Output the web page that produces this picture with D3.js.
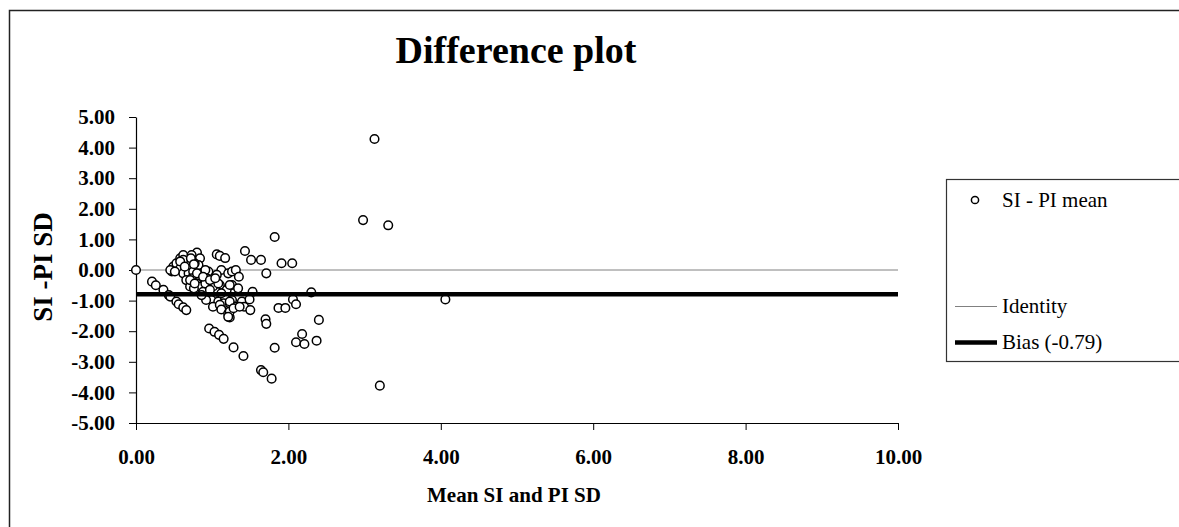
<!DOCTYPE html>
<html>
<head>
<meta charset="utf-8">
<script src="https://cdn.jsdelivr.net/npm/d3@7"></script>
<style>
  html, body { margin: 0; padding: 0; background: #fff; }
  svg { display: block; }
</style>
</head>
<body>
<svg id="chart" width="1179" height="527"></svg>
<script>
// ---- Data ----
const titleText = "Difference plot";
const xTitle = "Mean SI and PI SD";
const yTitle = "SI -PI SD";
const xTicks = [0, 2, 4, 6, 8, 10];
const xTickLabels = ["0.00", "2.00", "4.00", "6.00", "8.00", "10.00"];
const yTicks = [-5, -4, -3, -2, -1, 0, 1, 2, 3, 4, 5];
const yTickLabels = ["-5.00", "-4.00", "-3.00", "-2.00", "-1.00", "0.00", "1.00", "2.00", "3.00", "4.00", "5.00"];
const seriesName = "SI - PI mean";
const identityName = "Identity";
const biasName = "Bias (-0.79)";
const biasValue = -0.79;
const identityValue = 0;
const xDomain = [0, 10];
const yDomain = [-5, 5];

// mean of SI and PI SD (x)
const meanSD = [
  0.00, 1.82, 1.43, 1.51, 1.64, 1.91, 2.05, 1.71, 0.80, 1.06, 1.10, 1.17,
  0.21, 0.26, 0.36, 0.43, 0.45, 0.53, 0.56, 0.62, 0.66,
  0.96, 1.03, 1.09, 1.15, 1.28, 1.41, 1.64, 1.67, 1.78, 1.82,
  1.70, 1.71, 1.87, 1.96, 2.06, 2.10, 2.30, 2.40, 2.37, 2.10, 2.18, 2.21,
  2.98, 3.31, 3.13, 3.20, 4.06,
  0.49, 0.53, 0.58, 0.62, 0.73, 0.84, 0.47, 0.58, 0.62, 0.69, 0.75, 0.86,
  0.95, 1.04, 0.66, 0.73, 0.80, 0.93, 1.01, 0.71, 0.84, 0.93, 1.04, 0.99,
  1.08, 0.82, 0.91, 0.77, 0.62, 0.97, 0.88,
  1.12, 1.21, 1.26, 1.31, 1.35, 1.26, 1.34, 1.53, 1.06, 1.10, 1.19, 1.06,
  1.17, 1.26, 1.39, 1.49, 1.15, 1.23, 1.30, 1.01, 1.42, 1.10, 1.12, 1.21,
  1.23, 1.50, 0.92, 0.91, 1.01, 0.97, 0.86, 0.76, 0.71, 0.80, 0.88, 0.97,
  0.77, 0.58, 0.72, 0.76, 0.45, 0.51, 0.64,
  1.23, 1.08, 1.12, 1.23, 1.23, 1.28, 1.36, 1.21, 1.04
];
// SI - PI SD difference (y)
const diffSD = [
  0.00, 1.08, 0.62, 0.33, 0.33, 0.22, 0.22, -0.11, 0.57, 0.51, 0.46, 0.39,
  -0.38, -0.50, -0.65, -0.82, -0.87, -1.03, -1.12, -1.22, -1.31,
  -1.91, -2.02, -2.12, -2.25, -2.53, -2.81, -3.27, -3.34, -3.55, -2.54,
  -1.61, -1.76, -1.24, -1.24, -0.96, -1.12, -0.73, -1.63, -2.31, -2.36, -2.09, -2.42,
  1.63, 1.46, 4.28, -3.78, -0.96,
  0.11, 0.22, 0.38, 0.49, 0.49, 0.38, -0.05, 0.05, -0.11, -0.11, -0.05, -0.11,
  -0.05, -0.22, -0.33, -0.27, -0.44, -0.27, -0.49, -0.54, -0.54, -0.82, -0.82, -0.98,
  -1.03, 0.16, 0.00, 0.22, 0.33, -0.54, -0.71,
  0.00, -0.11, -0.05, 0.00, -0.22, -0.49, -0.60, -0.71, -0.16, -0.49, -0.65, -0.71,
  -0.93, -0.98, -1.03, -0.96, -1.09, -1.09, -1.20, -1.20, -1.20, -1.14, -1.29, -1.42,
  -1.55, -1.31, -0.98, -0.44, -0.54, -0.65, -0.82, -0.60, -0.33, -0.11, -0.22, -0.33,
  -0.44, 0.28, 0.38, 0.19, 0.00, -0.05, 0.11,
  -0.49, -0.44, -0.76, -1.03, -1.36, -1.25, -1.20, -1.53, -0.27
];

const points = meanSD.map((x, i) => ({ x, y: diffSD[i] }));

// ---- Drawing ----
const svg = d3.select("#chart");
const serif = "'Liberation Serif', 'Times New Roman', serif";

// outer frame (right and bottom edges fall outside the picture)
svg.append("rect")
  .attr("x", 9.5).attr("y", 10.5)
  .attr("width", 1300).attr("height", 700)
  .attr("fill", "none").attr("stroke", "#222").attr("stroke-width", 1.5);

const x = d3.scaleLinear().domain(xDomain).range([136, 898]);
const y = d3.scaleLinear().domain(yDomain).range([423, 117]);

// title
svg.append("text")
  .attr("x", 516).attr("y", 63)
  .attr("text-anchor", "middle")
  .attr("font-family", serif).attr("font-weight", "bold").attr("font-size", 38)
  .text(titleText);

// identity line
svg.append("line")
  .attr("x1", x(xDomain[0])).attr("x2", x(xDomain[1]))
  .attr("y1", y(identityValue)).attr("y2", y(identityValue))
  .attr("stroke", "#808080").attr("stroke-width", 1);

// y axis
const yAxis = svg.append("g")
  .attr("transform", `translate(${x(0)},0)`)
  .call(d3.axisLeft(y).tickValues(yTicks).tickFormat((d, i) => yTickLabels[i]).tickSize(7).tickSizeOuter(0).tickPadding(14));
yAxis.select(".domain").attr("stroke", "#000").attr("stroke-width", 1.2);
yAxis.selectAll(".tick line").attr("stroke", "#000");
yAxis.selectAll("text")
  .attr("font-family", serif).attr("font-weight", "bold").attr("font-size", 21).attr("fill", "#000");

// x axis
const xAxis = svg.append("g")
  .attr("transform", `translate(0,${y(-5)})`)
  .call(d3.axisBottom(x).tickValues(xTicks).tickFormat((d, i) => xTickLabels[i]).tickSize(7).tickSizeOuter(0).tickPadding(19));
xAxis.select(".domain").attr("stroke", "#000").attr("stroke-width", 1.2);
xAxis.selectAll(".tick line").attr("stroke", "#000");
xAxis.selectAll("text")
  .attr("font-family", serif).attr("font-weight", "bold").attr("font-size", 21).attr("fill", "#000");

// axis titles
svg.append("text")
  .attr("x", 514).attr("y", 502)
  .attr("text-anchor", "middle")
  .attr("font-family", serif).attr("font-weight", "bold").attr("font-size", 21)
  .text(xTitle);
svg.append("text")
  .attr("transform", "translate(52,267) rotate(-90)")
  .attr("text-anchor", "middle")
  .attr("font-family", serif).attr("font-weight", "bold").attr("font-size", 27)
  .text(yTitle);

// points
svg.append("g").selectAll("circle")
  .data(points).join("circle")
  .attr("cx", d => x(d.x)).attr("cy", d => y(d.y))
  .attr("r", 4.3)
  .attr("fill", "#fff").attr("stroke", "#000").attr("stroke-width", 1.5);

// bias line (drawn over points)
svg.append("line")
  .attr("x1", x(xDomain[0])).attr("x2", x(xDomain[1]))
  .attr("y1", y(biasValue)).attr("y2", y(biasValue))
  .attr("stroke", "#000").attr("stroke-width", 4.5);

// legend
const lg = svg.append("g");
lg.append("rect")
  .attr("x", 946.5).attr("y", 179.5).attr("width", 400).attr("height", 182)
  .attr("fill", "#fff").attr("stroke", "#333").attr("stroke-width", 1.2);
lg.append("circle").attr("cx", 975).attr("cy", 200).attr("r", 3.6)
  .attr("fill", "#fff").attr("stroke", "#000").attr("stroke-width", 1.5);
lg.append("text").attr("x", 1002).attr("y", 207)
  .attr("font-family", serif).attr("font-size", 21).text(seriesName);
lg.append("line").attr("x1", 955).attr("x2", 997).attr("y1", 306.5).attr("y2", 306.5)
  .attr("stroke", "#808080").attr("stroke-width", 1);
lg.append("text").attr("x", 1002).attr("y", 313)
  .attr("font-family", serif).attr("font-size", 21).text(identityName);
lg.append("line").attr("x1", 955).attr("x2", 997).attr("y1", 342.5).attr("y2", 342.5)
  .attr("stroke", "#000").attr("stroke-width", 4.5);
lg.append("text").attr("x", 1002).attr("y", 349)
  .attr("font-family", serif).attr("font-size", 21).text(biasName);
</script>
</body>
</html>
